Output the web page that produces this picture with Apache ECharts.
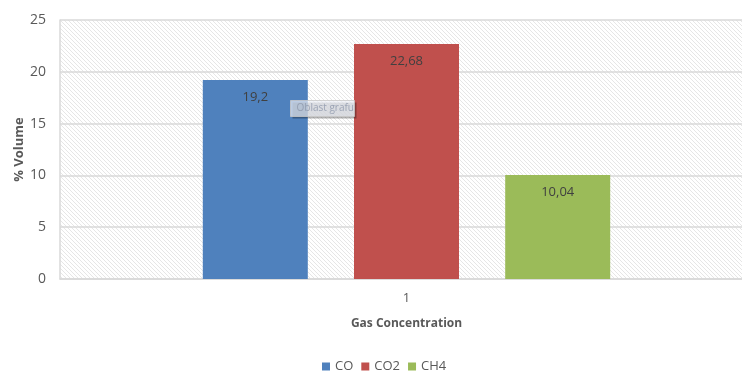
<!DOCTYPE html>
<html>
<head>
<meta charset="utf-8">
<script src="https://cdn.jsdelivr.net/npm/echarts@6/dist/echarts.min.js"></script>
<style>
  html, body { margin: 0; padding: 0; background: #fff; }
  #chart { width: 742px; height: 371px; }
</style>
</head>
<body>
<div id="chart"></div>
<script>
// Gas concentrations measured in the sample (% volume)
const categories = ['1'];
const seriesNames = ['CO', 'CO2', 'CH4'];
const coValues = [19.2];
const co2Values = [22.68];
const ch4Values = [10.04];
const seriesColors = ['#4F81BD', '#C0504D', '#9BBB59'];

// diagonal hatch used as the plot-area fill
function hatchPattern() {
  const n = 4;
  const c = document.createElement('canvas');
  c.width = n; c.height = n;
  const g = c.getContext('2d');
  g.fillStyle = '#ffffff';
  g.fillRect(0, 0, n, n);
  g.strokeStyle = '#e6e6e6';
  g.lineWidth = 1;
  g.beginPath();
  for (let k = -n; k <= n; k += n) {
    g.moveTo(k, 0);
    g.lineTo(k + n, n);
  }
  g.stroke();
  return c;
}

const fontFamily = '"Open Sans", "Liberation Sans", sans-serif';
const valuesBySeries = [coValues, co2Values, ch4Values];

const chart = echarts.init(document.getElementById('chart'), null, { renderer: 'canvas' });
chart.setOption({
  animation: false,
  textStyle: { fontFamily: fontFamily },
  grid: {
    left: 60, top: 20, width: 693, height: 259,
    outerBoundsMode: 'none',
    show: true,
    backgroundColor: { image: hatchPattern(), repeat: 'repeat' },
    borderWidth: 0
  },
  legend: {
    top: 355,
    left: 317,
    itemWidth: 8, itemHeight: 8, itemGap: 8,
    icon: 'rect',
    textStyle: { color: '#595959', fontSize: 13, fontFamily: fontFamily },
    data: seriesNames
  },
  xAxis: {
    type: 'category',
    data: categories,
    name: 'Gas Concentration',
    nameLocation: 'middle',
    nameGap: 39,
    nameTextStyle: { color: '#595959', fontSize: 12, fontWeight: 'bold' },
    axisLine: { show: true, lineStyle: { color: '#d9d9d9', width: 1.5 } },
    axisTick: { show: false },
    axisLabel: { color: '#595959', fontSize: 13, margin: 13 }
  },
  yAxis: {
    type: 'value',
    min: 0, max: 25, interval: 5,
    name: '% Volume',
    nameLocation: 'middle',
    nameGap: 34,
    nameMoveOverlap: false,
    nameRotate: 90,
    nameTextStyle: { color: '#595959', fontSize: 13, fontWeight: 'bold' },
    axisLine: { show: true, lineStyle: { color: '#d9d9d9', width: 1.5 } },
    axisTick: { show: false },
    axisLabel: { color: '#595959', fontSize: 14, margin: 14 },
    splitLine: { lineStyle: { color: '#d9d9d9', width: 1.5 } }
  },
  series: seriesNames.map((name, i) => ({
    name: name,
    type: 'bar',
    data: valuesBySeries[i],
    barWidth: 105,
    barGap: '44%',
    itemStyle: { color: seriesColors[i] },
    label: {
      show: true,
      position: 'insideTop',
      distance: 11,
      color: '#404040',
      fontSize: 13,
      formatter: p => String(p.value).replace('.', ',')
    }
  })),
  graphic: [{
    type: 'group',
    left: 290, top: 100,
    z: 100,
    children: [
      { type: 'rect', z: 100, shape: { x: 2, y: 2, width: 64, height: 16 },
        style: { fill: 'rgba(0,0,0,0.3)' } },
      { type: 'rect', z: 101, shape: { x: 0, y: 0, width: 64, height: 16 },
        style: { fill: 'rgba(235,238,245,0.7)', stroke: 'rgba(200,200,200,0.8)', lineWidth: 1 } },
      { type: 'text', z: 102, x: 6, y: 3,
        style: { text: 'Oblast grafu', fill: 'rgba(140,150,170,0.8)', fontSize: 10, fontFamily: fontFamily } }
    ]
  }]
});
</script>
</body>
</html>
